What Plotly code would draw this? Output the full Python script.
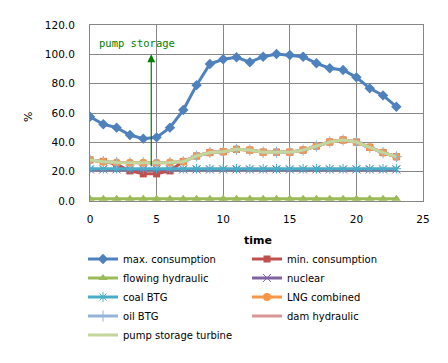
import plotly.graph_objects as go

hours = list(range(24))
max_consumption = [57.4, 52.3, 50.0, 45.0, 42.5, 43.4, 50.0, 62.0, 79.0, 93.4, 96.6, 98.0, 94.6, 98.4,
                   100.2, 99.5, 98.4, 93.9, 90.5, 89.3, 84.3, 76.8, 72.0, 64.3]
min_consumption = [28.0, 27.0, 25.0, 20.5, 18.5, 18.5, 20.5, 27.0, 30.7, 33.0, 33.6, 35.2, 34.7, 33.3,
                   33.3, 33.3, 34.7, 37.5, 40.2, 41.6, 40.2, 36.6, 33.0, 30.2]
flowing_hydraulic = [1.5] * 24
nuclear = [21.5] * 24
coal_btg = [22.0] * 24
lng_combined = [28.0, 26.8, 26.2, 26.0, 26.0, 26.0, 26.2, 26.8, 30.7, 33.0, 33.6, 35.2, 34.7, 33.3,
                33.3, 33.3, 34.7, 37.5, 40.2, 41.6, 40.2, 36.6, 33.0, 30.2]
oil_btg = lng_combined
dam_hydraulic = lng_combined
pump_storage_turbine = lng_combined

series = [
    ("max. consumption", max_consumption, "#4F81BD", dict(symbol="diamond", size=8)),
    ("min. consumption", min_consumption, "#C0504D", dict(symbol="square", size=7)),
    ("flowing hydraulic", flowing_hydraulic, "#9BBB59", dict(symbol="triangle-up", size=8)),
    ("nuclear", nuclear, "#8064A2", dict(symbol="x-thin", size=8, line=dict(width=1, color="#8064A2"))),
    ("coal BTG", coal_btg, "#4BACC6", dict(symbol="asterisk", size=8, line=dict(width=1, color="#4BACC6"))),
    ("LNG combined", lng_combined, "#F79646", dict(symbol="circle", size=8)),
    ("oil BTG", oil_btg, "#95B3D7", dict(symbol="cross-thin", size=8, line=dict(width=1, color="#95B3D7"))),
    ("dam hydraulic", dam_hydraulic, "#D99694", None),
    ("pump storage turbine", pump_storage_turbine, "#C3D69B", None),
]

fig = go.Figure()
for name, vals, color, marker in series:
    if marker is None:
        fig.add_trace(go.Scatter(x=hours, y=vals, name=name, mode="lines",
                                 line=dict(color=color, width=3)))
    else:
        m = dict(color=color)
        m.update(marker)
        fig.add_trace(go.Scatter(x=hours, y=vals, name=name, mode="lines+markers",
                                 line=dict(color=color, width=3), marker=m))

fig.add_annotation(x=4.6, y=100, ax=4.6, ay=22.7, xref="x", yref="y", axref="x", ayref="y",
                   showarrow=True, arrowhead=2, arrowsize=1.3, arrowwidth=1.2, arrowcolor="#008000",
                   text="")
fig.add_annotation(x=0.5, y=107.8, xref="x", yref="y", text="pump storage", showarrow=False,
                   xanchor="left", yanchor="middle",
                   font=dict(family="DejaVu Sans Mono", size=10.5, color="#008000"))
fig.add_annotation(x=-0.186, y=0.477, xref="paper", yref="paper", text="%", showarrow=False,
                   textangle=-90, xanchor="center", yanchor="middle",
                   font=dict(family="DejaVu Sans", size=11, color="#000"))
fig.add_annotation(x=0.5045, y=-0.227, xref="paper", yref="paper", text="<b>time</b>", showarrow=False,
                   xanchor="center", yanchor="middle",
                   font=dict(family="DejaVu Sans", size=11, color="#000"))

axis_common = dict(showgrid=True, gridcolor="#868686", gridwidth=1, showline=True, linecolor="#868686",
                   linewidth=1, mirror=True, zeroline=False, ticks="", automargin=False,
                   tickfont=dict(family="DejaVu Sans", size=10.5, color="#000000"))
fig.update_xaxes(range=[0, 25], dtick=5, tick0=0, ticklabelstandoff=8, **axis_common)
fig.update_yaxes(range=[0, 120], dtick=20, tickformat=".1f", ticklabelstandoff=12, **axis_common)

fig.update_layout(
    width=448, height=363,
    margin=dict(l=82, r=33, t=17, b=170, autoexpand=False),
    paper_bgcolor="white", plot_bgcolor="white",
    font=dict(family="DejaVu Sans", size=10.5, color="#000"),
    legend=dict(orientation="h", x=-0.021, y=-0.247, xanchor="left", yanchor="top",
                entrywidth=119, entrywidthmode="pixels", itemwidth=30, tracegroupgap=0,
                font=dict(family="DejaVu Sans", size=10, color="#000"),
                bgcolor="rgba(0,0,0,0)"),
    showlegend=True,
)

fig.write_html("out.html")
